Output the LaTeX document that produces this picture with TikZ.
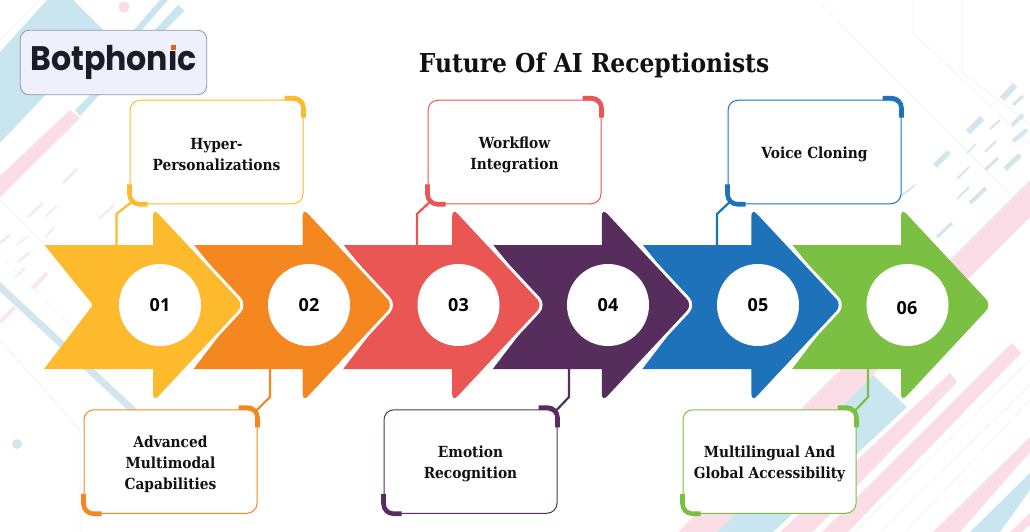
\documentclass[tikz,border=0pt]{standalone}
\usepackage{fontspec}
\usetikzlibrary{calc}
\newfontfamily\slab[FakeStretch=0.9]{DejaVu Serif}
\newfontfamily\numfont{Open Sans}
\newfontfamily\logofont[FakeStretch=0.93]{Poppins}
\definecolor{ayel}{HTML}{FDBA2C}
\definecolor{aora}{HTML}{F58720}
\definecolor{ared}{HTML}{E95653}
\definecolor{apur}{HTML}{572D5E}
\definecolor{ablu}{HTML}{1D72BA}
\definecolor{agre}{HTML}{7CC043}
\definecolor{bgblue}{HTML}{C9E5EF}
\definecolor{bgpink}{HTML}{FADDE6}
\definecolor{bgline}{HTML}{F3F5F8}
\definecolor{bgdash}{HTML}{D3E6EE}
\definecolor{ink}{HTML}{111111}
\definecolor{logoline}{HTML}{8F97AB}
\definecolor{logofill}{HTML}{EEF1FB}
\definecolor{logoink}{HTML}{1B1D26}
\definecolor{logodot}{HTML}{F05A14}
\tikzset{
  infobox/.style={draw=#1,line width=1pt,fill=white,rounded corners=10pt,minimum width=173pt,minimum height=103.5pt,inner sep=0pt},
  boxtext/.style={inner sep=0pt,align=center,yshift=-2.8pt,font=\slab\bfseries\fontsize{15.3}{21}\selectfont,text=ink},
  link/.style={draw=#1,line width=2.2pt},
  accent/.style={draw=#1,line width=4.6pt,rounded corners=10pt},
  numdisc/.style={circle,fill=white,minimum size=82pt,inner sep=0pt,font=\numfont\bfseries\fontsize{18}{20}\selectfont,text=black},
  thinbg/.style={draw=bgline,line width=1pt},
  pk/.style={draw=bgpink!75,line width=#1},
  bl/.style={draw=bgdash,line width=#1},
}
\newcommand{\boxaccents}[2]{%
  \draw[accent=#2] ($(#1.north east)+(-19,-1.6)$) -- ($(#1.north east)+(0,-1.6)$) -- ($(#1.north east)+(0,18)$);
  \draw[accent=#2] ($(#1.south west)+(0,-20)$) -- ($(#1.south west)+(0,0)$) -- ($(#1.south west)+(18,0)$);
}
\begin{document}
\begin{tikzpicture}[x=1pt,y=-1pt]
\useasboundingbox (0,0) rectangle (1030,532);
\fill[white] (0,0) rectangle (1030,532);
\begin{scope}
\clip (0,0) rectangle (1030,532);
% thin lines
\draw[thinbg] (817,0) -- (1030,215);
\draw[thinbg] (913,0) -- (913,33) -- (1030,143);
\draw[thinbg] (962,0) -- (962,72) -- (1030,125);
\draw[thinbg] (0,200) -- (120,320);
\draw[thinbg] (0,255) -- (120,375);
\draw[thinbg] (0,340) -- (80,430) -- (80,532);
\draw[thinbg] (0,60) -- (60,0);
\draw[thinbg] (0,40) -- (40,0);
\draw[thinbg] (60,125) -- (0,185);
\draw[thinbg] (905,532) -- (1030,400);
\draw[thinbg] (880,532) -- (1030,385);
\draw[thinbg] (855,532) -- (1030,360);
% top-left shapes
\fill[bgblue] (0,52) -- (47,0) -- (73,0) -- (105,32) -- (0,143) -- cycle;
\fill[bgblue] (132,32) -- (160,0) -- (168,0) -- (140,32) -- cycle;
\fill[bgblue] (153,32) -- (178,5) -- (184,11) -- (163,32) -- cycle;
\fill[bgblue] (75,110) -- (90,95) -- (99,95) -- (80,116) -- cycle;
\fill[bgpink] (70,110) -- (80,118) -- (0,197) -- (0,176) -- cycle;
\fill[bgpink] (124,7) circle[radius=5.5];
\draw[pk=2.5pt] (63,183) -- (77,169);
\draw[pk=2.5pt] (28,217) -- (43,203);
\draw[pk=1.5pt] (45,217) -- (57,206);
\draw[pk=2pt] (99,219) -- (114,205);
\draw[pk=2.5pt] (0,243) -- (10,235);
\draw[pk=1.5pt] (17,245) -- (28,236);
\draw[pk=1.5pt] (45,237) -- (55,227);
\draw[pk=2pt] (18,262) -- (30,252);
\draw[pk=4pt] (0,322) -- (15,307);
\draw[pk=4pt] (33,288) -- (47,273);
\draw[pk=1.5pt] (15,278) -- (25,268);
\draw[bl=7pt] (-3,284) -- (135,412);
\fill[bgdash] (17,444) circle[radius=5];
% bottom-right shapes
\fill[bgblue] (873,375) -- (907,407) -- (773,532) -- (717,532) -- cycle;
\fill[bgpink] (1030,180) -- (1030,217) -- (717,532) -- (678,532) -- cycle;
\fill[bgpink] (950,373) -- (957,382) -- (813,532) -- (780,532) -- cycle;
\fill[bgpink] (1012,343) -- (1021,353) -- (848,532) -- (822,532) -- cycle;
\fill[bgpink] (1030,437) -- (1030,452) -- (960,532) -- (933,532) -- cycle;
\fill[bgblue] (1030,473) -- (1030,490) -- (1000,532) -- (970,532) -- cycle;
\fill[bgpink] (1030,513) -- (1030,525) -- (1022,532) -- (1010,532) -- cycle;
% top-right dashes
\draw[bl=6pt] (1002,99) -- (1015,85);
\draw[bl=6pt] (968,132) -- (982,118);
\draw[bl=5pt] (935,166) -- (949,152);
\draw[bl=5pt] (1005,169) -- (1020,155);
\draw[bl=4pt] (1013,141) -- (1027,130);
\draw[bl=4pt] (1012,125) -- (1023,115);
\draw[bl=3pt] (1013,105) -- (1023,96);
\draw[bl=2pt] (990,129) -- (1000,120);
\draw[bl=2pt] (985,152) -- (996,141);
\draw[bl=3pt] (985,170) -- (998,158);
\draw[bl=1.5pt] (967,153) -- (976,144);
\draw[bl=2pt] (957,179) -- (969,167);
\draw[bl=2pt] (957,199) -- (969,187);
\draw[bl=4pt] (970,203) -- (986,188);
\draw[bl=3pt] (937,237) -- (952,223);
\draw[bl=2pt] (900,197) -- (915,185);
\end{scope}
% logo
\node[draw=logoline,line width=0.8pt,fill=logofill,rounded corners=9pt,minimum width=186.5pt,minimum height=64.5pt,inner sep=0pt] (logo) at (113.5,62.5) {};
\node[inner sep=0pt,font=\logofont\bfseries\fontsize{34}{36}\selectfont,text=logoink] (logotext) at (113.5,61.5) {Botphonic};
\fill[logofill] (168.5,40) rectangle (178.5,51);
\fill[logodot] (171,45.5) rectangle (176,50.5);
% title
\node[inner sep=0pt,font=\slab\bfseries\fontsize{26}{30}\selectfont,text=ink] (title) at (594,65) {Future Of AI Receptionists};
% boxes
\node[infobox=ayel,label={[boxtext]center:{Hyper-\\Personalizations}}] (b1) at (216.5,152) {};
\node[infobox=aora,label={[boxtext]center:{Advanced\\Multimodal\\Capabilities}}] (b2) at (170.5,461.5) {};
\node[infobox=ared,label={[boxtext]center:{Workflow\\Integration}}] (b3) at (514.5,152) {};
\node[infobox=apur,label={[boxtext]center:{Emotion\\Recognition}}] (b4) at (470.5,461.5) {};
\node[infobox=ablu,label={[boxtext]center:{Voice Cloning}}] (b5) at (814.5,152) {};
\node[infobox=agre,label={[boxtext]center:{Multilingual And\\Global Accessibility}}] (b6) at (769.5,461.5) {};
% connector ends on the arrows
\coordinate (t1) at (116.5,245); \coordinate (k1) at (116.5,214);
\coordinate (t3) at (417,245); \coordinate (k3) at (417,214);
\coordinate (t5) at (717,245); \coordinate (k5) at (717,214);
\coordinate (t2) at (270,369); \coordinate (k2) at (270,397);
\coordinate (t4) at (569,369); \coordinate (k4) at (569,397);
\coordinate (t6) at (868,369); \coordinate (k6) at (868,397);
\draw[link=ayel] (t1) -- (k1) -- ($(b1.south west)+(3,-3)$);
\draw[link=ared] (t3) -- (k3) -- ($(b3.south west)+(3,-3)$);
\draw[link=ablu] (t5) -- (k5) -- ($(b5.south west)+(3,-3)$);
\draw[link=aora] (t2) -- (k2) -- ($(b2.north east)+(-3,3)$);
\draw[link=apur] (t4) -- (k4) -- ($(b4.north east)+(-3,3)$);
\draw[link=agre] (t6) -- (k6) -- ($(b6.north east)+(-3,3)$);
\boxaccents{b1}{ayel}
\boxaccents{b2}{aora}
\boxaccents{b3}{ared}
\boxaccents{b4}{apur}
\boxaccents{b5}{ablu}
\boxaccents{b6}{agre}
% arrows, last first
\foreach \i/\c in {5/agre,4/ablu,3/apur,2/ared,1/aora,0/ayel}{
  \begin{scope}[xshift=\i*149.6pt]
    \ifnum\i<5
      \begin{scope}
        \clip (-50,245.5) rectangle (400,368.5);
        \draw[white,line width=6pt,rounded corners=8pt] (153,300) -- (153,208) -- (243.5,305) -- (153,402) -- (153,300);
      \end{scope}
    \fi
    \fill[\c] (44.5,245) -- (153,245) [rounded corners=8pt] -- (153,208) -- (243.5,305) -- (153,402) [sharp corners] -- (153,369) -- (44,369) [rounded corners=3pt] -- (93,305) [sharp corners] -- cycle;
  \end{scope}
}
\node[numdisc] (c1) at (160,305) {01};
\node[numdisc] (c2) at (309,305) {02};
\node[numdisc] (c3) at (458.5,305) {03};
\node[numdisc] (c4) at (608,305) {04};
\node[numdisc] (c5) at (758,305) {05};
\node[numdisc] (c6) at (907.5,305) {};
\node[inner sep=0pt,font=\numfont\bfseries\fontsize{18}{20}\selectfont] (n6) at (907,308) {06};
\end{tikzpicture}
\end{document}
